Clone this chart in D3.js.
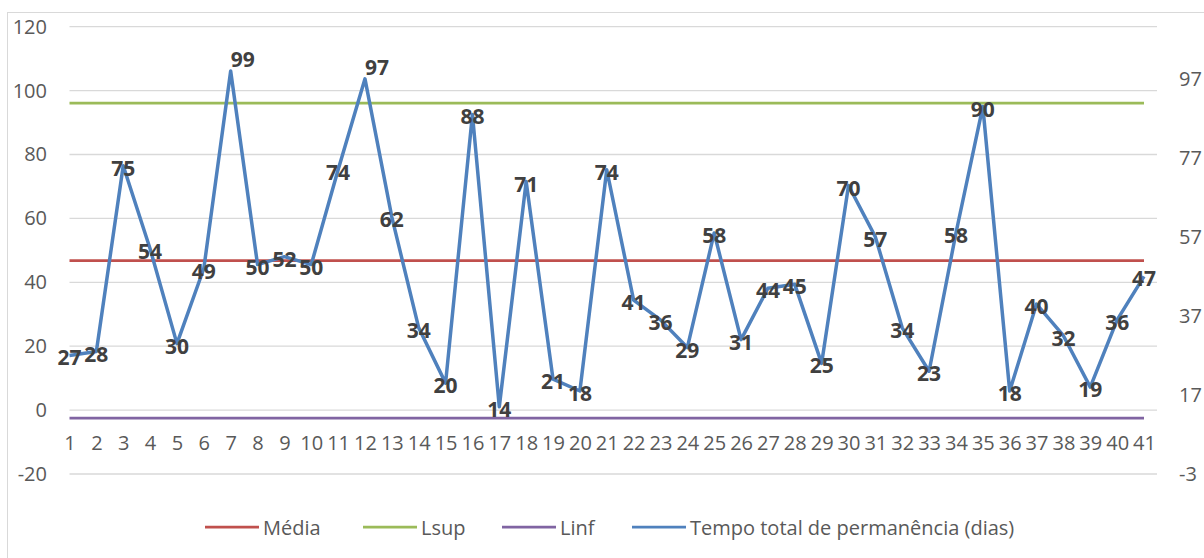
<!DOCTYPE html>
<html>
<head>
<meta charset="utf-8">
<script src="https://cdn.jsdelivr.net/npm/d3@7"></script>
<style>
  body { margin: 0; background: #fff; }
  text { font-family: "Open Sans", sans-serif; }
</style>
</head>
<body>
<svg id="chart" width="1204" height="558"></svg>
<script>
const width = 1204,
  height = 558;

// data
const days = d3.range(1, 42);
const tempo = [27, 28, 75, 54, 30, 49, 99, 50, 52, 50, 74, 97, 62, 34, 20, 88, 14, 71, 21, 18, 74,
  41, 36, 29, 58, 31, 44, 45, 25, 70, 57, 34, 23, 58, 90, 18, 40, 32, 19, 36, 47];
const media = 46.8;
const lsup = 96.1;
const linf = -2.5;
const leftTicks = [-20, 0, 20, 40, 60, 80, 100, 120];
const rightTicks = [-3, 17, 37, 57, 77, 97];
const legendNames = ["Média", "Lsup", "Linf", "Tempo total de permanência (dias)"];
const colors = ["#c0504d", "#9bbb59", "#8064a2", "#4f81bd"];

const svg = d3.select("#chart");

// outer chart border
svg.append("rect")
  .attr("x", 7.5).attr("y", 12.5)
  .attr("width", 1220).attr("height", 600)
  .attr("fill", "none")
  .attr("stroke", "#d9d9d9");

const x = d3.scalePoint().domain(days).range([69.5, 1144]);
const y = d3.scaleLinear().domain([-20, 120]).range([474, 26.7]);
const y2 = d3.scaleLinear().domain([-3, 110.2]).range([474, 26.7]);

// gridlines
svg.append("g")
  .selectAll("line")
  .data(leftTicks)
  .enter()
  .append("line")
  .attr("x1", 69.5).attr("x2", 1157)
  .attr("y1", d => y(d)).attr("y2", d => y(d))
  .style("stroke", "#d9d9d9")
  .style("stroke-width", 1.3);

// left axis
const leftAxis = svg.append("g")
  .attr("transform", "translate(47,0)")
  .call(d3.axisLeft(y).tickValues(leftTicks).tickFormat(d => d).tickSize(0).tickPadding(0));
leftAxis.select(".domain").remove();
leftAxis.selectAll("text")
  .style("font-size", "20px")
  .style("fill", "#595959");

// right axis
const rightAxis = svg.append("g")
  .attr("transform", "translate(1179,0)")
  .call(d3.axisRight(y2).tickValues(rightTicks).tickFormat(d => d).tickSize(0).tickPadding(0));
rightAxis.select(".domain").remove();
rightAxis.selectAll("text")
  .style("font-size", "20px")
  .style("fill", "#595959");

// category labels sit under the zero line
const bottomAxis = svg.append("g")
  .attr("transform", `translate(0,${y(0) + 26})`)
  .call(d3.axisBottom(x).tickSize(0).tickPadding(0));
bottomAxis.select(".domain").remove();
bottomAxis.selectAll("text")
  .style("font-size", "20px")
  .style("fill", "#595959");

// control lines on the left axis
const refLines = [media, lsup, linf];
svg.append("g")
  .selectAll("line")
  .data(refLines)
  .enter()
  .append("line")
  .attr("x1", x(1)).attr("x2", x(41))
  .attr("y1", d => y(d)).attr("y2", d => y(d))
  .style("stroke", (d, i) => colors[i])
  .style("stroke-width", 2.75);

// the series itself, on the secondary axis
const line = d3.line()
  .x((d, i) => x(days[i]))
  .y(d => y2(d));

svg.append("path")
  .datum(tempo)
  .attr("d", line)
  .attr("fill", "none")
  .style("stroke", colors[3])
  .style("stroke-width", 3.5)
  .style("stroke-linejoin", "round");

// data labels, the two top peaks were nudged up-right
svg.append("g")
  .selectAll("text")
  .data(tempo)
  .enter()
  .append("text")
  .attr("x", (d, i) => x(days[i]) + (d > 95 ? 12 : 0))
  .attr("y", d => y2(d) + (d > 95 ? -12 : 2))
  .attr("text-anchor", "middle")
  .attr("dominant-baseline", "central")
  .style("font-size", "21px")
  .style("font-weight", "bold")
  .style("fill", "#404040")
  .text(d => d);

// legend
const legendX = [205, 363, 502, 632];
const legend = svg.append("g")
  .selectAll("g")
  .data(legendNames)
  .enter()
  .append("g")
  .attr("transform", (d, i) => `translate(${legendX[i]},527)`);

legend.append("line")
  .attr("x1", 0).attr("x2", 54)
  .style("stroke", (d, i) => colors[i])
  .style("stroke-width", 2.75);

legend.append("text")
  .attr("x", 58)
  .attr("dominant-baseline", "central")
  .style("font-size", "20px")
  .style("fill", "#595959")
  .text(d => d);
</script>
</body>
</html>
